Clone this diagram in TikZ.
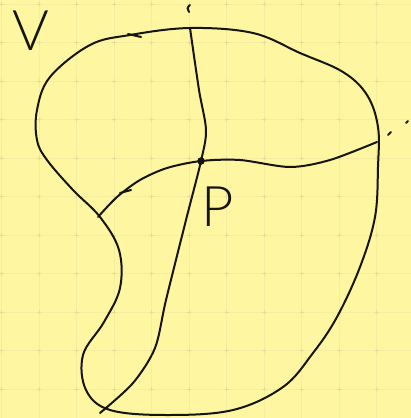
\documentclass[tikz,border=0pt]{standalone}
\usepackage{fontspec}
\newfontfamily\hand{Lato Light}
\definecolor{paper}{HTML}{FFF6A2}
\definecolor{gridc}{HTML}{F7EDA0}
\definecolor{gridm}{HTML}{E6DC94}
\definecolor{ink}{HTML}{151510}
\tikzset{
  pen/.style={draw=ink, line width=2pt, line cap=round, line join=round},
  dotnode/.style={circle, fill=ink, draw=ink, inner sep=0pt, minimum size=7pt},
  lab/.style={font=\hand\fontsize{56}{56}\selectfont, text=ink, inner sep=0pt}
}
\begin{document}
\begin{tikzpicture}[x=1pt,y=-1pt]
\useasboundingbox (0,0) rectangle (411,418);
\fill[paper] (0,0) rectangle (411,418);
% grid
\foreach \i in {0,...,11} {
  \draw[gridc, line width=0.8pt] ({1.5+37.5*\i},0) -- ({1.5+37.5*\i},418);
  \draw[gridc, line width=0.8pt] (0,{4+38.5*\i}) -- (411,{4+38.5*\i});
}
\foreach \i in {0,...,11} \foreach \j in {0,...,11} {
  \draw[gridm, line width=0.8pt] ({1.5+37.5*\i-2},{4+38.5*\j}) -- ({1.5+37.5*\i+2},{4+38.5*\j});
  \draw[gridm, line width=0.8pt] ({1.5+37.5*\i},{4+38.5*\j-2}) -- ({1.5+37.5*\i},{4+38.5*\j+2});
}
% outer region
\draw[pen] plot[smooth cycle, tension=0.6] coordinates {
 (130,35) (190,28) (253,33) (300,53) (343,72) (367,95) (378,127) (378,167)
 (375,217) (360,267) (337,317) (313,353) (283,387) (233,410) (167,415)
 (110,410) (86,390) (83,355) (104,322) (120,288) (119,250)
 (100,217) (73,190) (47,160) (37,140) (37,110) (50,77) (90,45)};
\draw[pen] (128,34) -- (141,37);
% point P
\node[dotnode] (P) at (201,161) {};
\coordinate (top) at (190,28);
\coordinate (bot) at (100,413);
\coordinate (left) at (98,217);
\coordinate (right) at (377,142);
% vertical curve
\draw[pen] plot[smooth, tension=0.5] coordinates {
 (top) (199,90) (206,130) (P) (186,220) (166,300) (155,348) (133,383) (bot)};
% horizontal curve
\draw[pen] plot[smooth, tension=0.5] coordinates {
 (left) (117,197) (140,180) (167,168) (P) (240,160) (290,167) (330,160) (right)};
\draw[pen] (120,193) -- (131,190);
% small marks
\draw[pen] (190,5) .. controls (187,7) and (187,10) .. (189,12);
\draw[pen] (388,135) -- (391,132);
\draw[pen] (406,123) -- (408,121);
% labels
\node[lab] (Vlab) at (31,31) {V};
\node[lab] (Plab) at (218,207) {P};
\end{tikzpicture}
\end{document}
